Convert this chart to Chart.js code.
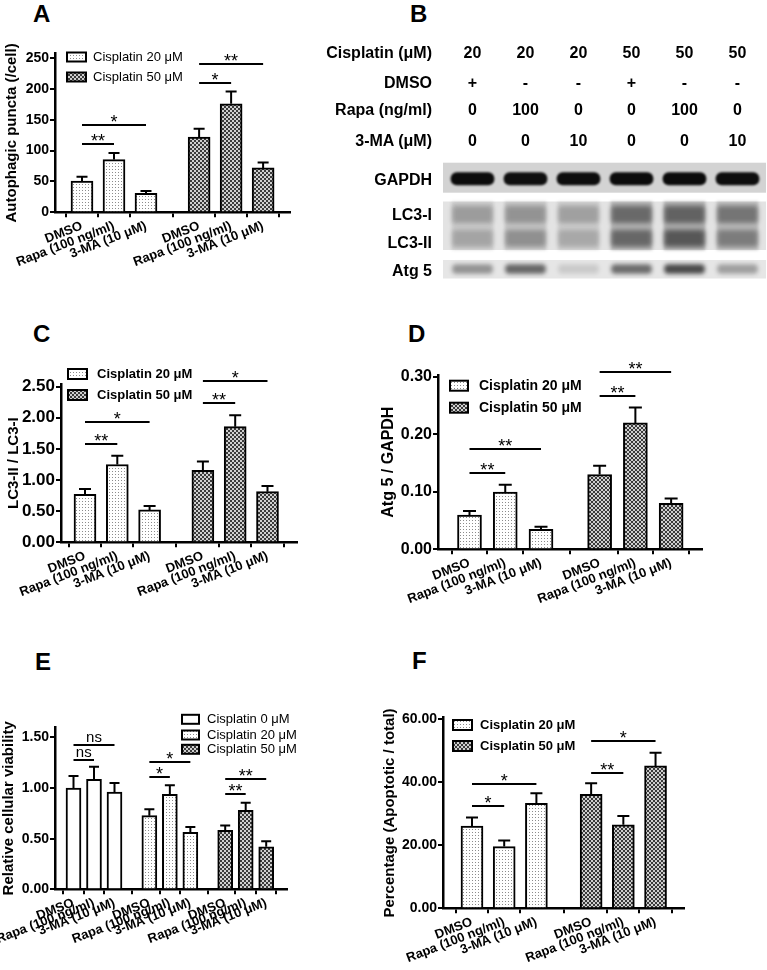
<!DOCTYPE html>
<html><head><meta charset="utf-8">
<script src="https://cdn.jsdelivr.net/npm/chart.js@4.4.1/dist/chart.umd.min.js"></script>
<style>
body{margin:0;background:#fff;width:767px;height:970px;position:relative;overflow:hidden;font-family:"Liberation Sans",Arial,sans-serif;color:#000;}
canvas{position:absolute;}
.lt{position:absolute;font-weight:bold;font-size:24px;line-height:24px;}
.bt{position:absolute;font-weight:bold;font-size:16px;line-height:20px;white-space:nowrap;}
</style></head><body>
<div class="lt" style="left:33px;top:2px">A</div>
<div class="lt" style="left:410px;top:2px">B</div>
<div class="lt" style="left:33px;top:322px">C</div>
<div class="lt" style="left:408px;top:322px">D</div>
<div class="lt" style="left:35px;top:650px">E</div>
<div class="lt" style="left:412px;top:649px">F</div>
<script>
// ---------- DATA ----------
const treatments = ['DMSO', 'Rapa (100 ng/ml)', '3-MA (10 \u03BCM)'];
const legend20 = 'Cisplatin 20 \u03BCM', legend50 = 'Cisplatin 50 \u03BCM', legend0 = 'Cisplatin 0 \u03BCM';

// A: autophagic puncta
const punctaC20 = [50.5, 85.5, 30.6], punctaC20Err = [7, 10.5, 3.8];
const punctaC50 = [122, 176, 72],     punctaC50Err = [13.5, 20, 8.6];
const punctaTicks = [0, 50, 100, 150, 200, 250];
const punctaSig = [[0,0,1,110,'**'],[0,0,2,142,'*'],[1,0,1,209,'*'],[1,0,2,240,'**']];

// C: LC3-II / LC3-I
const lc3C20 = [0.77, 1.25, 0.52], lc3C20Err = [0.086, 0.139, 0.064];
const lc3C50 = [1.156, 1.858, 0.814], lc3C50Err = [0.14, 0.182, 0.091];
const lc3Ticks = [0, 0.5, 1.0, 1.5, 2.0, 2.5];
const lc3Sig = [[0,0,1,1.574,'**'],[0,0,2,1.927,'*'],[1,0,1,2.243,'**'],[1,0,2,2.596,'*']];

// D: Atg5 / GAPDH
const atgC20 = [0.0595, 0.0994, 0.0347], atgC20Err = [0.007, 0.0126, 0.0046];
const atgC50 = [0.1301, 0.2197, 0.0798], atgC50Err = [0.015, 0.0266, 0.0086];
const atgTicks = [0, 0.1, 0.2, 0.3];
const atgSig = [[0,0,1,0.1325,'**'],[0,0,2,0.1742,'**'],[1,0,1,0.2659,'**'],[1,0,2,0.3081,'**']];

// E: relative viability
const viaC0 = [1.00, 1.085, 0.96],   viaC0Err = [0.12, 0.125, 0.09];
const viaC20 = [0.727, 0.9375, 0.5625], viaC20Err = [0.063, 0.089, 0.053];
const viaC50 = [0.582, 0.78, 0.42],  viaC50Err = [0.048, 0.075, 0.054];
const viaTicks = [0, 0.5, 1.0, 1.5];
const viaSig = [[0,0,1,1.276,'ns'],[0,0,2,1.424,'ns'],[1,0,1,1.109,'*'],[1,0,2,1.26,'*'],[2,0,1,0.94,'**'],[2,0,2,1.086,'**']];

// F: apoptosis percentage
const apoC20 = [26.1, 19.6, 33.3], apoC20Err = [2.7, 1.9, 3.2];
const apoC50 = [36.2, 26.5, 45.2], apoC50Err = [3.5, 2.8, 4.2];
const apoTicks = [0, 20, 40, 60];
const apoSig = [[0,0,1,32.5,'*'],[0,0,2,39.5,'*'],[1,0,1,42.9,'**'],[1,0,2,53.1,'*']];

// B: western blot
const lanes = ['1','2','3','4','5','6'];
const cisplatinDose = ['20','20','20','50','50','50'];
const dmsoFlag = ['+','-','-','+','-','-'];
const rapaDose = ['0','100','0','0','100','0'];
const maDose = ['0','0','10','0','0','10'];
const gapdhBand = [0.95, 0.93, 0.94, 0.95, 0.95, 0.94];
const lc3IBand  = [0.38, 0.42, 0.36, 0.68, 0.72, 0.62];
const lc3IIBand = [0.32, 0.45, 0.30, 0.70, 0.82, 0.55];
const atg5Band  = [0.42, 0.65, 0.14, 0.62, 0.80, 0.36];

// ---------- STYLE ----------
Chart.defaults.font.family = '"Liberation Sans", Arial, sans-serif';
Chart.defaults.color = '#000';
const FONT = '"Liberation Sans", Arial, sans-serif';

function makePattern(kind) {
  const p = document.createElement('canvas');
  const g = p.getContext('2d');
  if (kind === 'dots') {
    p.width = 3; p.height = 3;
    g.fillStyle = '#fff'; g.fillRect(0,0,3,3);
    g.fillStyle = '#8c8c8c'; g.fillRect(1,1,1,1);
  } else {
    p.width = 4; p.height = 4;
    g.fillStyle = '#cfcfcf'; g.fillRect(0,0,4,4);
    g.fillStyle = '#3a3a3a'; g.fillRect(0,0,2,2); g.fillRect(2,2,2,2);
  }
  return g.createPattern(p, 'repeat');
}
const fillDots = makePattern('dots');
const fillCheck = makePattern('check');

function makePanel(cfg) {
  const [cl, ct, cw, ch] = cfg.canvas;
  const [ax, atop, abot, aright] = cfg.area;
  const c = document.createElement('canvas');
  c.width = cw; c.height = ch;
  c.style.left = cl + 'px'; c.style.top = ct + 'px';
  document.body.appendChild(c);
  const xs = [], labels = [];
  const posOf = (g, i) => g * cfg.groupStep + i;
  cfg.series.forEach((s, g) => s.values.forEach((v, i) => { xs.push(posOf(g, i)); labels.push(treatments[i]); }));
  const xmin = (ax - cfg.firstX) / cfg.barStep, xmax = (aright - cfg.firstX) / cfg.barStep;
  const datasets = cfg.series.map((s, g) => ({
    label: s.label,
    data: s.values.map((v, i) => ({ x: posOf(g, i), y: v })),
    backgroundColor: s.fill, borderColor: '#000', borderWidth: 2,
    barThickness: cfg.barW, grouped: false
  }));
  const axisGrid = { display: true, drawOnChartArea: false, drawTicks: true, tickLength: 5, color: '#000', lineWidth: 2 };
  const axisBorder = { display: true, color: '#000', width: 2.5 };
  new Chart(c, {
    type: 'bar',
    data: { datasets },
    options: {
      responsive: false, animation: false, devicePixelRatio: 1,
      layout: { padding: { left: 0, top: atop - ct, right: cl + cw - aright, bottom: 0 } },
      plugins: { legend: { display: false }, tooltip: { enabled: false } },
      scales: {
        x: {
          type: 'linear', min: xmin, max: xmax, offset: false,
          afterBuildTicks: s => { s.ticks = xs.map(v => ({ value: v })); },
          afterFit: s => { s.height = ct + ch - abot; },
          grid: axisGrid, border: axisBorder,
          ticks: { autoSkip: false, minRotation: cfg.rot, maxRotation: cfg.rot, padding: 1,
                   color: '#000', font: { size: 13, weight: 'bold' }, callback: (v, i) => labels[i] }
        },
        y: {
          type: 'linear', min: 0, max: cfg.ymax,
          afterBuildTicks: s => { s.ticks = cfg.yticks.map(v => ({ value: v })); },
          afterFit: s => { s.width = ax - cl; },
          grid: axisGrid, border: axisBorder,
          ticks: { padding: 1, color: '#000', font: { size: cfg.tickSize, weight: 'bold' },
                   callback: v => v.toFixed(cfg.dec) },
          title: { display: true, text: cfg.ytitle, color: '#000',
                   font: { size: cfg.titleSize, weight: 'bold' }, padding: { top: cfg.titlePad, bottom: 0 } }
        }
      }
    },
    plugins: [{
      id: 'extras',
      afterDatasetsDraw(chart) {
        const ctx = chart.ctx, xS = chart.scales.x, yS = chart.scales.y;
        ctx.save();
        ctx.strokeStyle = '#000'; ctx.fillStyle = '#000'; ctx.lineWidth = 2; ctx.lineCap = 'butt';
        // error bars
        cfg.series.forEach((s, g) => s.values.forEach((v, i) => {
          const x = xS.getPixelForValue(posOf(g, i));
          const y0 = yS.getPixelForValue(v), y1 = yS.getPixelForValue(v + s.errs[i]);
          ctx.beginPath();
          ctx.moveTo(x, y0); ctx.lineTo(x, y1);
          ctx.moveTo(x - cfg.capW / 2, y1); ctx.lineTo(x + cfg.capW / 2, y1);
          ctx.stroke();
        }));
        // significance brackets
        ctx.textAlign = 'center';
        cfg.sig.forEach(([g, a, b, val, txt]) => {
          const x0 = xS.getPixelForValue(posOf(g, a)), x1 = xS.getPixelForValue(posOf(g, b));
          const y = Math.round(yS.getPixelForValue(val));
          ctx.beginPath(); ctx.moveTo(x0, y); ctx.lineTo(x1, y); ctx.stroke();
          if (txt === 'ns') {
            ctx.font = '15px ' + FONT; ctx.textBaseline = 'alphabetic';
            ctx.fillText(txt, (x0 + x1) / 2, y - 3);
          } else {
            ctx.font = '18px ' + FONT; ctx.textBaseline = 'alphabetic';
            ctx.fillText(txt, (x0 + x1) / 2, y + 2.5);
          }
        });
        // legend
        const L = cfg.legend;
        ctx.textAlign = 'left'; ctx.textBaseline = 'middle';
        ctx.font = (L.bold ? 'bold ' : '') + L.size + 'px ' + FONT;
        cfg.series.forEach((s, k) => {
          const yc = L.ys[k] - ct;
          const bx = L.bx - cl;
          ctx.fillStyle = s.fill;
          ctx.fillRect(bx, yc - L.bh / 2, L.bw, L.bh);
          ctx.strokeRect(bx, yc - L.bh / 2, L.bw, L.bh);
          ctx.fillStyle = '#000';
          ctx.fillText(s.label, L.tx - cl, yc + 0.5);
        });
        ctx.restore();
      }
    }]
  });
}

// A
makePanel({
  canvas: [0, 30, 300, 262], area: [55, 53.5, 212.3, 290],
  firstX: 82, barStep: 32, groupStep: 3.66, barW: 22, capW: 11, rot: 21,
  ymax: 257.5, yticks: punctaTicks, dec: 0, tickSize: 14,
  ytitle: 'Autophagic puncta (/cell)', titleSize: 15, titlePad: 3,
  series: [
    { label: legend20, values: punctaC20, errs: punctaC20Err, fill: fillDots },
    { label: legend50, values: punctaC50, errs: punctaC50Err, fill: fillCheck }
  ],
  sig: punctaSig,
  legend: { bx: 67, bw: 19, bh: 9, tx: 93, ys: [57, 77], size: 13, bold: false }
});

// C
makePanel({
  canvas: [0, 350, 310, 262], area: [61, 384, 542.3, 297],
  firstX: 85, barStep: 32.3, groupStep: 3.65, barW: 22, capW: 12, rot: 21,
  ymax: 2.543, yticks: lc3Ticks, dec: 2, tickSize: 17,
  ytitle: 'LC3-II / LC3-I', titleSize: 15, titlePad: 4.5,
  series: [
    { label: legend20, values: lc3C20, errs: lc3C20Err, fill: fillDots },
    { label: legend50, values: lc3C50, errs: lc3C50Err, fill: fillCheck }
  ],
  sig: lc3Sig,
  legend: { bx: 68, bw: 19, bh: 10, tx: 97, ys: [374, 395], size: 13, bold: true }
});

// D
makePanel({
  canvas: [375, 345, 392, 280], area: [438, 375, 549.3, 702],
  firstX: 469.5, barStep: 35.75, groupStep: 3.64, barW: 24, capW: 13, rot: 21,
  ymax: 0.303, yticks: atgTicks, dec: 2, tickSize: 16,
  ytitle: 'Atg 5 / GAPDH', titleSize: 16, titlePad: 4.4,
  series: [
    { label: legend20, values: atgC20, errs: atgC20Err, fill: fillDots },
    { label: legend50, values: atgC50, errs: atgC50Err, fill: fillCheck }
  ],
  sig: atgSig,
  legend: { bx: 450, bw: 18, bh: 10, tx: 479, ys: [385.7, 407.7], size: 14, bold: true }
});

// E
makePanel({
  canvas: [0, 700, 340, 270], area: [55, 727.3, 889.3, 287],
  firstX: 73.5, barStep: 20.5, groupStep: 3.7, barW: 15, capW: 10, rot: 21,
  ymax: 1.6, yticks: viaTicks, dec: 2, tickSize: 14,
  ytitle: 'Relative cellular viability', titleSize: 15, titlePad: 0,
  series: [
    { label: legend0, values: viaC0, errs: viaC0Err, fill: '#ffffff' },
    { label: legend20, values: viaC20, errs: viaC20Err, fill: fillDots },
    { label: legend50, values: viaC50, errs: viaC50Err, fill: fillCheck }
  ],
  sig: viaSig,
  legend: { bx: 182, bw: 17, bh: 9, tx: 207, ys: [719.3, 735, 749.3], size: 13, bold: false }
});

// F
makePanel({
  canvas: [375, 690, 392, 280], area: [443, 717.7, 908.3, 684],
  firstX: 472, barStep: 32.2, groupStep: 3.7, barW: 22, capW: 12, rot: 21,
  ymax: 60.5, yticks: apoTicks, dec: 2, tickSize: 14,
  ytitle: 'Percentage (Apoptotic / total)', titleSize: 15, titlePad: 6,
  series: [
    { label: legend20, values: apoC20, errs: apoC20Err, fill: fillDots },
    { label: legend50, values: apoC50, errs: apoC50Err, fill: fillCheck }
  ],
  sig: apoSig,
  legend: { bx: 453, bw: 19, bh: 10, tx: 480, ys: [725, 746], size: 13, bold: true }
});

// ---------- B: blot ----------
(function () {
  const cl = 443, ct = 160, cw = 324, ch = 122, padL = 3, padR = 3;
  const laneW = (cw - padL - padR) / lanes.length;
  const laneCenter = i => cl + padL + laneW * (i + 0.5);
  // header rows
  const rows = [['Cisplatin (\u03BCM)', cisplatinDose, 53], ['DMSO', dmsoFlag, 83],
                ['Rapa (ng/ml)', rapaDose, 110], ['3-MA (\u03BCM)', maDose, 141]];
  const add = (txt, style) => { const d = document.createElement('div'); d.className = 'bt'; d.textContent = txt; d.setAttribute('style', style); document.body.appendChild(d); };
  rows.forEach(([name, vals, yc]) => {
    add(name, `left:0;width:432px;text-align:right;top:${yc - 10}px`);
    vals.forEach((v, i) => add(v, `left:${laneCenter(i) - 30}px;width:60px;text-align:center;top:${yc - 10}px`));
  });
  [['GAPDH', 180], ['LC3-I', 215], ['LC3-II', 243], ['Atg 5', 271]].forEach(([n, yc]) =>
    add(n, `left:0;width:432px;text-align:right;top:${yc - 10}px`));

  const c = document.createElement('canvas');
  c.width = cw; c.height = ch; c.style.left = cl + 'px'; c.style.top = ct + 'px';
  document.body.appendChild(c);
  const strips = [[2.7, 32.7, '#d3d3d3'], [41.5, 90, '#e3e3e3'], [100, 118.5, '#e6e6e6']];
  const band = (range, vals, k, thick, blur, radius) => ({
    data: vals.map(() => range),
    backgroundColor: vals.map(v => `rgba(0,0,0,${(v * k).toFixed(3)})`),
    barThickness: thick, grouped: false, borderSkipped: false, borderRadius: radius || 0, blur
  });
  new Chart(c, {
    type: 'bar',
    data: {
      labels: lanes,
      datasets: [
        band([41.5, 90], lc3IBand.map((v, i) => (v + lc3IIBand[i]) / 2), 0.28, 41, 1.5),
        band([12.5, 25], gapdhBand, 1.0, 43, 1.2, 6),
        band([46, 63], lc3IBand, 0.62, 40, 2.5, 3),
        band([70, 86.5], lc3IIBand, 0.62, 40, 2.5, 3),
        band([104.5, 113.5], atg5Band, 0.85, 40, 2, 4)
      ]
    },
    options: {
      responsive: false, animation: false, devicePixelRatio: 1,
      layout: { padding: { left: padL, right: padR, top: 0, bottom: 0 } },
      plugins: { legend: { display: false }, tooltip: { enabled: false } },
      scales: {
        x: { type: 'category', offset: true, display: false },
        y: { type: 'linear', min: 0, max: ch, reverse: true, display: false }
      }
    },
    plugins: [{
      id: 'blot',
      beforeDatasetsDraw(chart) {
        const ctx = chart.ctx, yS = chart.scales.y;
        strips.forEach(([a, b, col]) => {
          ctx.fillStyle = col;
          const y0 = yS.getPixelForValue(a), y1 = yS.getPixelForValue(b);
          ctx.fillRect(0, y0, cw - 1, y1 - y0);
        });
      },
      beforeDatasetDraw(chart, args) {
        const ds = chart.data.datasets[args.index];
        chart.ctx.save();
        chart.ctx.filter = `blur(${ds.blur}px)`;
      },
      afterDatasetDraw(chart) { chart.ctx.restore(); }
    }]
  });
})();
</script>
</body></html>
